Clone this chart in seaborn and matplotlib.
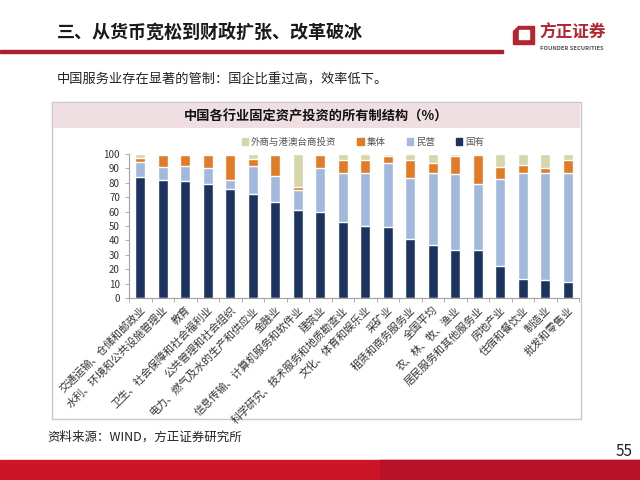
import numpy as np
import pandas as pd
import matplotlib
matplotlib.use("Agg")
import matplotlib.pyplot as plt
from matplotlib.patches import Rectangle, Polygon, Patch
import seaborn as sns

# 行业
industries = [
    "交通运输、仓储和邮政业", "水利、环境和公共设施管理业", "教育",
    "卫生、社会保障和社会福利业", "公共管理和社会组织",
    "电力、燃气及水的生产和供应业", "金融业", "信息传输、计算机服务和软件业",
    "建筑业", "科学研究、技术服务和地质勘查业", "文化、体育和娱乐业",
    "采矿业", "租赁和商务服务业", "全国平均", "农、林、牧、渔业",
    "居民服务和其他服务业", "房地产业", "住宿和餐饮业", "制造业", "批发和零售业",
]

# shares in %
state_owned = [84, 82, 81, 79, 75.5, 72.5, 67, 61, 60, 53,
               50, 49.5, 41, 37, 33.5, 33.5, 22.5, 13.5, 12.5, 11]
private = [10.5, 9, 11, 11.5, 6.5, 19.5, 18, 14, 30, 33.5,
           36.5, 44, 42.5, 50, 52.5, 46, 60, 73.5, 74.5, 75.5]
collective = [3, 8.5, 7.5, 9, 17.5, 4.5, 14, 2, 9.5, 9.5,
              9.5, 5.3, 12, 7, 12.5, 19.5, 8.5, 5.5, 3.5, 9.5]
foreign = [2.5, 0.5, 0.5, 0.5, 0.5, 3.5, 1, 23, 0.5, 4,
           4, 1.2, 4.5, 6, 1.5, 1, 9, 7.5, 9.5, 4]

series_names = ["外商与港澳台商投资", "集体", "民营", "国有"]
colors = {"外商与港澳台商投资": "#d5d6a9", "集体": "#e27b26",
          "民营": "#a3b8dd", "国有": "#1d3461"}

df = pd.DataFrame({"industry": industries, "国有": state_owned, "民营": private,
                   "集体": collective, "外商与港澳台商投资": foreign})
# cumulative tops, drawn from the tallest layer down
df["top_国有"] = df["国有"]
df["top_民营"] = df["top_国有"] + df["民营"]
df["top_集体"] = df["top_民营"] + df["集体"]
df["top_外商与港澳台商投资"] = df["top_集体"] + df["外商与港澳台商投资"]

sns.set_theme(style="white")
plt.rcParams["font.family"] = ["Noto Sans CJK SC", "DejaVu Sans"]

W, H = 640, 480
fig = plt.figure(figsize=(6.4, 4.8), dpi=100)
fig.patch.set_facecolor("white")

def fx(px):
    return px / W

def fy(py):
    return 1 - py / H

# slide header
fig.text(fx(57), fy(32), "三、从货币宽松到财政扩张、改革破冰", fontsize=13,
         fontweight="bold", color="#1a1a1a", va="center", ha="left")
fig.patches.append(Rectangle((0, fy(52.5)), fx(503), 3 / H, transform=fig.transFigure,
                             color="#a8202f", zorder=1))
# logo
fig.patches.append(Polygon([(fx(518), fy(26)), (fx(534), fy(26)), (fx(534), fy(44)),
                            (fx(513), fy(44)), (fx(513), fy(31))],
                           closed=True, transform=fig.transFigure, color="#b5252f"))
fig.patches.append(Rectangle((fx(519), fy(39)), fx(10), 9 / H, transform=fig.transFigure,
                             color="white"))
fig.text(fx(539), fy(33), "方正证券", fontsize=12, fontweight="bold", color="#b5252f",
         va="center", ha="left")
fig.text(fx(540), fy(49), "FOUNDER SECURITIES", fontsize=4.2, fontweight="bold",
         color="#555555", va="center", ha="left")

fig.text(fx(57), fy(80), "中国服务业存在显著的管制：国企比重过高，效率低下。", fontsize=9.5,
         color="#222222", va="center", ha="left")

# chart frame and title band
fig.patches.append(Rectangle((fx(52), fy(419)), fx(529), 317 / H, transform=fig.transFigure,
                             facecolor="white", edgecolor="#c8c8c8", lw=1, zorder=-2))
fig.patches.append(Rectangle((fx(53), fy(128)), fx(527), 25 / H, transform=fig.transFigure,
                             facecolor="#efdfe2", edgecolor="none", zorder=-1))
fig.text(fx(316), fy(116), "中国各行业固定资产投资的所有制结构（%）", fontsize=9.5,
         fontweight="bold", color="#111111", va="center", ha="center")

ax = fig.add_axes([fx(129), fy(298), fx(450), 144 / H])
ax.set_zorder(3)
ax.set_facecolor("none")
for name in series_names:
    sns.barplot(data=df, x="industry", y="top_" + name, color=colors[name],
                width=0.45, ax=ax, saturation=1, errorbar=None)

ax.set_ylim(0, 100)
ax.set_xlim(-0.5, len(industries) - 0.5)
ax.set_yticks(np.arange(0, 101, 10))
ax.set_xlabel("")
ax.set_ylabel("")
for s in ["top", "right"]:
    ax.spines[s].set_visible(False)
for s in ["left", "bottom"]:
    ax.spines[s].set_color("#a0a0a0")
    ax.spines[s].set_linewidth(0.8)
ax.tick_params(axis="y", labelsize=7, colors="#333333", length=3, width=0.6,
               left=True, direction="out", color="#a0a0a0")
ax.set_xticks(np.arange(len(industries)))
ax.set_xticklabels(industries, rotation=45, ha="right", rotation_mode="anchor",
                   fontsize=7.7, color="#333333")
ax.tick_params(axis="x", length=0, pad=5)
ax.set_xticks(np.arange(-0.5, len(industries), 1), minor=True)
ax.tick_params(axis="x", which="minor", length=3, width=0.6, color="#a0a0a0", bottom=True)

handles = [Patch(color=colors[n]) for n in series_names]
fig.legend(handles, series_names, loc="center", bbox_to_anchor=(fx(363), fy(142)),
           ncol=4, frameon=False, fontsize=6.8, handlelength=0.7, handleheight=0.7,
           columnspacing=2.2, handletextpad=0.3, labelcolor="#555555")

# footer
fig.text(fx(47), fy(437), "资料来源：WIND，方正证券研究所", fontsize=9, color="#222222",
         va="center", ha="left")
fig.patches.append(Rectangle((0, 0), 1, 20 / H, transform=fig.transFigure,
                             color="#cc1526", zorder=1))
fig.patches.append(Rectangle((fx(380), 0), fx(260), 20 / H, transform=fig.transFigure,
                             color="#b8132a", zorder=1))
fig.text(fx(633), fy(452), "55", fontsize=11, color="#222222", va="center", ha="right")

fig.savefig("out.png", dpi=100)
